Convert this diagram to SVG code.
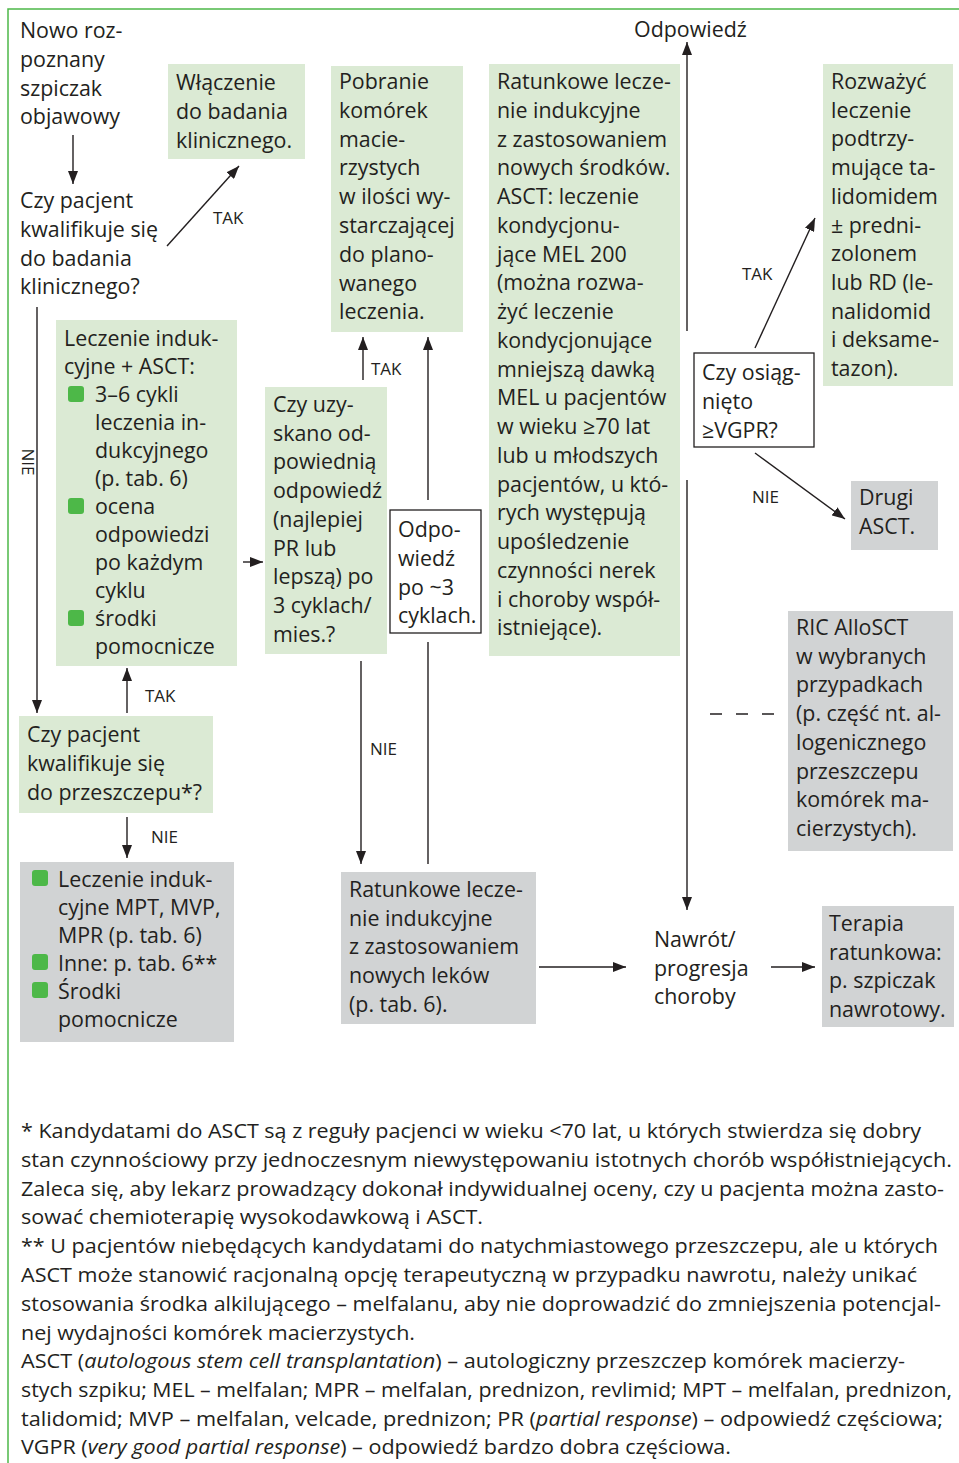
<svg xmlns="http://www.w3.org/2000/svg" width="959" height="1463" viewBox="0 0 959 1463">
<style>
.t{font-family:"Open Sans","Noto Sans",sans-serif;font-size:21.4px;fill:#231f20}
.l{font-family:"Open Sans","Noto Sans",sans-serif;font-size:17px;fill:#231f20}
.f{font-family:"Open Sans","Noto Sans",sans-serif;font-size:20px;fill:#231f20}
.g{fill:#dbead4}
.gr{fill:#d1d3d4}
.w{fill:#fff;stroke:#231f20;stroke-width:1.3}
.b{fill:#4db848}
.c line{stroke:#231f20;stroke-width:1.4;fill:none}
.c .a{marker-end:url(#ah)}
.frame{stroke:#4db848;stroke-width:1.5;fill:none}
</style>
<defs>
<marker id="ah" markerUnits="userSpaceOnUse" markerWidth="13" markerHeight="10" refX="13" refY="5" orient="auto">
<path d="M0,0 L13,5 L0,10 Z" fill="#231f20"/>
</marker>
</defs>
<rect width="959" height="1463" fill="#fff"/>
<path class="frame" d="M8,1463 L8,9 L959,9"/>

<g id="n-start">
<text class="t"><tspan x="20" y="38">Nowo roz-</tspan><tspan x="20" dy="28.8">poznany</tspan><tspan x="20" dy="28.8">szpiczak</tspan><tspan x="20" dy="28.8">objawowy</tspan></text>
</g>
<g id="n-q-trial">
<text class="t"><tspan x="20" y="208">Czy pacjent</tspan><tspan x="20" dy="28.8">kwalifikuje się</tspan><tspan x="20" dy="28.8">do badania</tspan><tspan x="20" dy="28.8">klinicznego?</tspan></text>
</g>
<g id="n-trial">
<rect class="g" x="168" y="64" width="137" height="95"/>
<text class="t"><tspan x="176" y="90">Włączenie</tspan><tspan x="176" dy="28.8">do badania</tspan><tspan x="176" dy="28.8">klinicznego.</tspan></text>
</g>
<g id="n-induction">
<rect class="g" x="56" y="320" width="181" height="346"/>
<rect class="b" x="68" y="386" width="16" height="16" rx="3"/>
<rect class="b" x="68" y="498" width="16" height="16" rx="3"/>
<rect class="b" x="68" y="610" width="16" height="16" rx="3"/>
<text class="t"><tspan x="64" y="346">Leczenie induk-</tspan><tspan x="64" dy="28">cyjne + ASCT:</tspan><tspan x="95" dy="28">3–6 cykli</tspan><tspan x="95" dy="28">leczenia in-</tspan><tspan x="95" dy="28">dukcyjnego</tspan><tspan x="95" dy="28">(p. tab. 6)</tspan><tspan x="95" dy="28">ocena</tspan><tspan x="95" dy="28">odpowiedzi</tspan><tspan x="95" dy="28">po każdym</tspan><tspan x="95" dy="28">cyklu</tspan><tspan x="95" dy="28">środki</tspan><tspan x="95" dy="28">pomocnicze</tspan></text>
</g>
<g id="n-q-transplant">
<rect class="g" x="19" y="716" width="194" height="97"/>
<text class="t"><tspan x="27" y="742">Czy pacjent</tspan><tspan x="27" dy="28.8">kwalifikuje się</tspan><tspan x="27" dy="28.8">do przeszczepu*?</tspan></text>
</g>
<g id="n-nontransplant">
<rect class="gr" x="20" y="862" width="214" height="180"/>
<rect class="b" x="32" y="870" width="16" height="16" rx="3"/>
<rect class="b" x="32" y="954" width="16" height="16" rx="3"/>
<rect class="b" x="32" y="982" width="16" height="16" rx="3"/>
<text class="t"><tspan x="58" y="887">Leczenie induk-</tspan><tspan x="58" dy="28">cyjne MPT, MVP,</tspan><tspan x="58" dy="28">MPR (p. tab. 6)</tspan><tspan x="58" dy="28">Inne: p. tab. 6**</tspan><tspan x="58" dy="28">Środki</tspan><tspan x="58" dy="28">pomocnicze</tspan></text>
</g>
<g id="n-q-response">
<rect class="g" x="265" y="387" width="122" height="267"/>
<text class="t"><tspan x="273" y="412">Czy uzy-</tspan><tspan x="273" dy="28.7">skano od-</tspan><tspan x="273" dy="28.7">powiednią</tspan><tspan x="273" dy="28.7">odpowiedź</tspan><tspan x="273" dy="28.7">(najlepiej</tspan><tspan x="273" dy="28.7">PR lub</tspan><tspan x="273" dy="28.7">lepszą) po</tspan><tspan x="273" dy="28.7">3 cyklach/</tspan><tspan x="273" dy="28.7">mies.?</tspan></text>
</g>
<g id="n-harvest">
<rect class="g" x="331" y="66" width="132" height="266"/>
<text class="t"><tspan x="339" y="89">Pobranie</tspan><tspan x="339" dy="28.8">komórek</tspan><tspan x="339" dy="28.8">macie-</tspan><tspan x="339" dy="28.8">rzystych</tspan><tspan x="339" dy="28.8">w ilości wy-</tspan><tspan x="339" dy="28.8">starczającej</tspan><tspan x="339" dy="28.8">do plano-</tspan><tspan x="339" dy="28.8">wanego</tspan><tspan x="339" dy="28.8">leczenia.</tspan></text>
</g>
<g id="n-resp3">
<rect class="w" x="390" y="510" width="91" height="123"/>
<text class="t"><tspan x="398" y="537">Odpo-</tspan><tspan x="398" dy="28.8">wiedź</tspan><tspan x="398" dy="28.8">po ~3</tspan><tspan x="398" dy="28.8">cyklach.</tspan></text>
</g>
<g id="n-salvage-asct">
<rect class="g" x="489" y="64" width="191" height="592"/>
<text class="t"><tspan x="497" y="89">Ratunkowe lecze-</tspan><tspan x="497" dy="28.75">nie indukcyjne</tspan><tspan x="497" dy="28.75">z zastosowaniem</tspan><tspan x="497" dy="28.75">nowych środków.</tspan><tspan x="497" dy="28.75">ASCT: leczenie</tspan><tspan x="497" dy="28.75">kondycjonu-</tspan><tspan x="497" dy="28.75">jące MEL 200</tspan><tspan x="497" dy="28.75">(można rozwa-</tspan><tspan x="497" dy="28.75">żyć leczenie</tspan><tspan x="497" dy="28.75">kondycjonujące</tspan><tspan x="497" dy="28.75">mniejszą dawką</tspan><tspan x="497" dy="28.75">MEL u pacjentów</tspan><tspan x="497" dy="28.75">w wieku ≥70 lat</tspan><tspan x="497" dy="28.75">lub u młodszych</tspan><tspan x="497" dy="28.75">pacjentów, u któ-</tspan><tspan x="497" dy="28.75">rych występują</tspan><tspan x="497" dy="28.75">upośledzenie</tspan><tspan x="497" dy="28.75">czynności nerek</tspan><tspan x="497" dy="28.75">i choroby współ-</tspan><tspan x="497" dy="28.75">istniejące).</tspan></text>
</g>
<g id="n-response-label">
<text class="t" x="634" y="37">Odpowiedź</text>
</g>
<g id="n-q-vgpr">
<rect class="w" x="694" y="353" width="120" height="94"/>
<text class="t"><tspan x="702" y="380">Czy osiąg-</tspan><tspan x="702" dy="28.8">nięto</tspan><tspan x="702" dy="28.8">≥VGPR?</tspan></text>
</g>
<g id="n-maintenance">
<rect class="g" x="823" y="64" width="130" height="322"/>
<text class="t"><tspan x="831" y="89">Rozważyć</tspan><tspan x="831" dy="28.7">leczenie</tspan><tspan x="831" dy="28.7">podtrzy-</tspan><tspan x="831" dy="28.7">mujące ta-</tspan><tspan x="831" dy="28.7">lidomidem</tspan><tspan x="831" dy="28.7">± predni-</tspan><tspan x="831" dy="28.7">zolonem</tspan><tspan x="831" dy="28.7">lub RD (le-</tspan><tspan x="831" dy="28.7">nalidomid</tspan><tspan x="831" dy="28.7">i deksame-</tspan><tspan x="831" dy="28.7">tazon).</tspan></text>
</g>
<g id="n-second-asct">
<rect class="gr" x="851" y="481" width="87" height="69"/>
<text class="t"><tspan x="859" y="505">Drugi</tspan><tspan x="859" dy="28.8">ASCT.</tspan></text>
</g>
<g id="n-allo">
<rect class="gr" x="788" y="611" width="165" height="240"/>
<text class="t"><tspan x="796" y="635">RIC AlloSCT</tspan><tspan x="796" dy="28.7">w wybranych</tspan><tspan x="796" dy="28.7">przypadkach</tspan><tspan x="796" dy="28.7">(p. część nt. al-</tspan><tspan x="796" dy="28.7">logenicznego</tspan><tspan x="796" dy="28.7">przeszczepu</tspan><tspan x="796" dy="28.7">komórek ma-</tspan><tspan x="796" dy="28.7">cierzystych).</tspan></text>
</g>
<g id="n-salvage-new">
<rect class="gr" x="341" y="872" width="195" height="152"/>
<text class="t"><tspan x="349" y="897">Ratunkowe lecze-</tspan><tspan x="349" dy="28.7">nie indukcyjne</tspan><tspan x="349" dy="28.7">z zastosowaniem</tspan><tspan x="349" dy="28.7">nowych leków</tspan><tspan x="349" dy="28.7">(p. tab. 6).</tspan></text>
</g>
<g id="n-relapse">
<text class="t"><tspan x="654" y="947">Nawrót/</tspan><tspan x="654" dy="28.7">progresja</tspan><tspan x="654" dy="28.7">choroby</tspan></text>
</g>
<g id="n-salvage-therapy">
<rect class="gr" x="822" y="906" width="132" height="121"/>
<text class="t"><tspan x="829" y="931">Terapia</tspan><tspan x="829" dy="28.7">ratunkowa:</tspan><tspan x="829" dy="28.7">p. szpiczak</tspan><tspan x="829" dy="28.7">nawrotowy.</tspan></text>
</g>

<g id="connectors" class="c">
<line class="a" x1="73" y1="135" x2="73" y2="184"/>
<line class="a" x1="167" y1="246" x2="239" y2="166"/>
<line class="a" x1="37" y1="307" x2="37" y2="713"/>
<line class="a" x1="127" y1="713" x2="127" y2="668"/>
<line class="a" x1="127" y1="817" x2="127" y2="858"/>
<line class="a" x1="243" y1="562" x2="263" y2="562"/>
<line class="a" x1="363" y1="380" x2="363" y2="337"/>
<line class="a" x1="428" y1="500" x2="428" y2="337"/>
<line class="a" x1="361" y1="661" x2="361" y2="864"/>
<line x1="428" y1="642" x2="428" y2="864"/>
<line class="a" x1="539" y1="967" x2="626" y2="967"/>
<line class="a" x1="771" y1="967" x2="815" y2="967"/>
<line class="a" x1="687" y1="331" x2="687" y2="42"/>
<line class="a" x1="687" y1="480" x2="687" y2="910"/>
<line class="a" x1="755" y1="348" x2="815" y2="218"/>
<line class="a" x1="755" y1="453" x2="845" y2="519"/>
<line x1="710" y1="714" x2="776" y2="714" stroke-dasharray="12 14"/>
<text class="l" x="213" y="224">TAK</text>
<text class="l" transform="translate(22,462) rotate(90)" text-anchor="middle">NIE</text>
<text class="l" x="145" y="702">TAK</text>
<text class="l" x="151" y="843">NIE</text>
<text class="l" x="371" y="375">TAK</text>
<text class="l" x="370" y="755">NIE</text>
<text class="l" x="742" y="280">TAK</text>
<text class="l" x="752" y="503">NIE</text>
</g>

<g id="footnotes">
<text class="f" x="21" y="1138" textLength="900" lengthAdjust="spacingAndGlyphs">* Kandydatami do ASCT są z reguły pacjenci w wieku &lt;70 lat, u których stwierdza się dobry</text>
<text class="f" x="21" y="1167" textLength="931" lengthAdjust="spacingAndGlyphs">stan czynnościowy przy jednoczesnym niewystępowaniu istotnych chorób współistniejących.</text>
<text class="f" x="21" y="1196" textLength="923" lengthAdjust="spacingAndGlyphs">Zaleca się, aby lekarz prowadzący dokonał indywidualnej oceny, czy u pacjenta można zasto-</text>
<text class="f" x="21" y="1224" textLength="462" lengthAdjust="spacingAndGlyphs">sować chemioterapię wysokodawkową i ASCT.</text>
<text class="f" x="21" y="1253" textLength="917" lengthAdjust="spacingAndGlyphs">** U pacjentów niebędących kandydatami do natychmiastowego przeszczepu, ale u których</text>
<text class="f" x="21" y="1282" textLength="896" lengthAdjust="spacingAndGlyphs">ASCT może stanowić racjonalną opcję terapeutyczną w przypadku nawrotu, należy unikać</text>
<text class="f" x="21" y="1311" textLength="920" lengthAdjust="spacingAndGlyphs">stosowania środka alkilującego – melfalanu, aby nie doprowadzić do zmniejszenia potencjal-</text>
<text class="f" x="21" y="1340" textLength="394" lengthAdjust="spacingAndGlyphs">nej wydajności komórek macierzystych.</text>
<text class="f" x="21" y="1368" textLength="884" lengthAdjust="spacingAndGlyphs">ASCT (<tspan font-style="italic">autologous stem cell transplantation</tspan>) – autologiczny przeszczep komórek macierzy-</text>
<text class="f" x="21" y="1397" textLength="931" lengthAdjust="spacingAndGlyphs">stych szpiku; MEL – melfalan; MPR – melfalan, prednizon, revlimid; MPT – melfalan, prednizon,</text>
<text class="f" x="21" y="1426" textLength="922" lengthAdjust="spacingAndGlyphs">talidomid; MVP – melfalan, velcade, prednizon; PR (<tspan font-style="italic">partial response</tspan>) – odpowiedź częściowa;</text>
<text class="f" x="21" y="1454" textLength="710" lengthAdjust="spacingAndGlyphs">VGPR (<tspan font-style="italic">very good partial response</tspan>) – odpowiedź bardzo dobra częściowa.</text>
</g>
</svg>
